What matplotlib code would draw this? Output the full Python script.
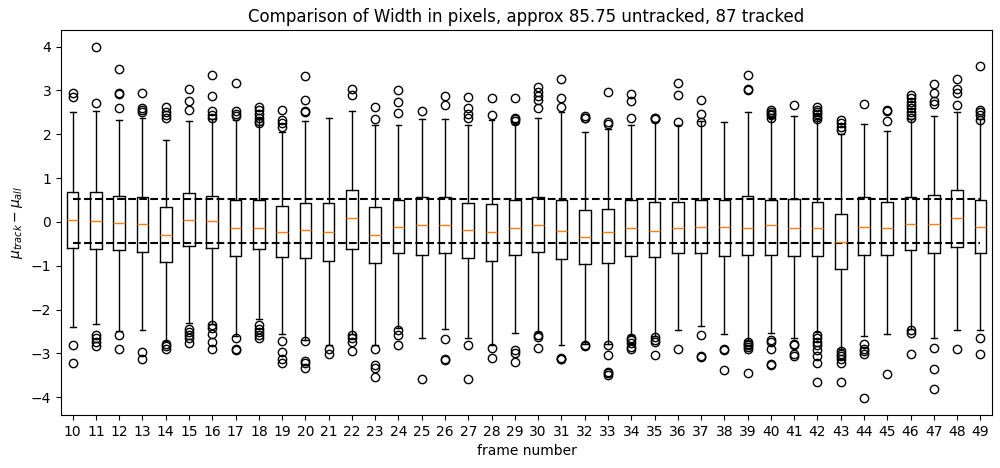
import matplotlib.pyplot as plt

frames = list(range(10, 50))

# box statistics, one entry per frame
q1 = [-0.59, -0.62, -0.65, -0.68, -0.91, -0.55, -0.59, -0.77, -0.63, -0.81,
      -0.82, -0.90, -0.61, -0.93, -0.70, -0.75, -0.70, -0.82, -0.90, -0.75,
      -0.68, -0.84, -0.96, -0.94, -0.78, -0.80, -0.72, -0.70, -0.78, -0.75,
      -0.75, -0.78, -0.78, -1.07, -0.75, -0.75, -0.65, -0.72, -0.57, -0.72]
med = [0.05, 0.03, -0.02, -0.04, -0.29, 0.05, 0.01, -0.14, -0.14, -0.24,
       -0.18, -0.24, 0.08, -0.29, -0.11, -0.08, -0.06, -0.18, -0.24, -0.13,
       -0.08, -0.20, -0.34, -0.24, -0.13, -0.20, -0.13, -0.11, -0.11, -0.13,
       -0.08, -0.13, -0.13, -0.45, -0.11, -0.13, -0.04, -0.04, 0.08, -0.11]
q3 = [0.69, 0.69, 0.60, 0.56, 0.35, 0.67, 0.58, 0.49, 0.50, 0.37,
      0.44, 0.44, 0.73, 0.35, 0.49, 0.56, 0.56, 0.44, 0.41, 0.49,
      0.56, 0.49, 0.26, 0.30, 0.49, 0.46, 0.46, 0.49, 0.49, 0.58,
      0.51, 0.53, 0.46, 0.19, 0.56, 0.46, 0.56, 0.62, 0.72, 0.49]
whislo = [-2.40, -2.34, -2.50, -2.47, -2.72, -2.30, -2.32, -2.61, -2.21, -2.55,
          -2.69, -2.82, -2.55, -2.82, -2.42, -2.66, -2.44, -2.64, -2.82, -2.53,
          -2.51, -2.80, -2.78, -2.78, -2.59, -2.61, -2.47, -2.38, -2.56, -2.70,
          -2.53, -2.64, -2.51, -2.89, -2.61, -2.56, -2.44, -2.66, -2.46, -2.46]
whishi = [2.50, 2.54, 2.32, 2.38, 1.86, 2.30, 2.34, 2.32, 2.34, 2.05,
          2.31, 2.36, 2.54, 2.22, 2.22, 2.34, 2.34, 2.22, 2.32, 2.24,
          2.36, 2.50, 2.04, 2.11, 2.20, 2.28, 2.22, 2.30, 2.27, 2.51,
          2.40, 2.41, 2.34, 2.00, 2.24, 2.07, 2.34, 2.41, 2.50, 2.34]
fliers = [
    [2.93, 2.85, -2.82, -3.23],
    [3.98, 2.72, -2.59, -2.66, -2.74, -2.84],
    [3.50, 2.93, 2.91, 2.59, -2.59, -2.89],
    [2.93, 2.59, 2.55, 2.51, -2.97, -3.14],
    [2.63, 2.51, 2.44, 2.37, -2.78, -2.84, -2.91],
    [3.04, 2.75, 2.56, -2.44, -2.51, -2.59, -2.66, -2.76],
    [3.35, 2.87, 2.53, 2.44, 2.36, -2.36, -2.42, -2.56, -2.74, -2.91],
    [3.16, 2.53, 2.47, 2.41, -2.66, -2.91, -2.93],
    [2.63, 2.55, 2.47, 2.38, 2.31, 2.25, -2.36, -2.44, -2.51, -2.59, -2.66],
    [2.56, 2.32, 2.25, 2.17, -2.72, -2.97, -3.12, -3.22],
    [3.33, 2.79, 2.53, 2.50, -2.72, -3.18, -3.23, -3.33],
    [-2.89, -3.02],
    [3.04, 2.89, -2.59, -2.66, -2.74, -2.95],
    [2.63, 2.34, -2.91, -3.26, -3.33, -3.55],
    [3.02, 2.74, 2.48, -2.47, -2.59, -2.82],
    [2.54, -3.58],
    [2.88, 2.66, -2.67, -3.14, -3.16],
    [2.84, 2.61, 2.47, 2.38, -2.82, -3.58],
    [2.82, 2.43, -2.88, -3.10],
    [2.82, 2.38, 2.34, 2.31, -2.93, -2.99, -3.20],
    [3.07, 2.97, 2.87, 2.78, 2.61, -2.59, -2.63, -2.87],
    [3.27, 2.82, 2.63, -3.10, -3.12, -3.14],
    [2.41, 2.38, 2.36, -2.80, -2.84],
    [2.96, 2.29, 2.24, -2.82, -3.04, -3.42, -3.46, -3.50],
    [2.91, 2.76, 2.38, -2.64, -2.70, -2.76, -2.85, -2.89],
    [2.38, 2.36, 2.34, -2.63, -2.69, -2.74, -3.04],
    [3.16, 2.89, 2.28, -2.91],
    [2.78, 2.47, 2.28, -2.59, -3.07, -3.08],
    [-2.91, -2.93, -3.39],
    [3.35, 3.04, 3.01, -2.74, -2.78, -2.82, -2.85, -2.89, -3.45],
    [2.55, 2.51, 2.47, 2.44, 2.38, -2.70, -2.74, -2.91, -3.25, -3.27],
    [2.66, -2.78, -2.82, -3.02, -3.07],
    [2.63, 2.56, 2.51, 2.46, 2.40, 2.34, -2.59, -2.66, -2.74, -2.82, -2.93,
     -3.07, -3.21, -3.65],
    [2.32, 2.25, 2.17, 2.09, -2.95, -3.01, -3.07, -3.14, -3.21, -3.65],
    [2.69, -2.79, -2.89, -2.95, -3.01, -4.01],
    [2.56, 2.53, 2.30, -3.48],
    [2.89, 2.82, 2.74, 2.66, 2.59, 2.51, 2.44, 2.36, -2.47, -2.53, -3.01],
    [3.14, 2.95, 2.75, 2.70, -2.87, -3.35, -3.81],
    [3.27, 3.04, 2.95, 2.66, -2.89],
    [3.55, 2.56, 2.51, 2.44, 2.32, -2.66, -3.01],
]
band = [0.52, -0.48]

stats = []
for i in range(len(frames)):
    stats.append(dict(med=med[i], q1=q1[i], q3=q3[i], whislo=whislo[i],
                      whishi=whishi[i], fliers=fliers[i]))

fig = plt.figure(figsize=(10, 4.68), dpi=100)
ax = fig.add_axes([0.061, 0.113, 0.931, 0.823])

ax.bxp(stats, positions=frames, widths=0.5)
ax.hlines(band, frames[0], frames[-1], colors='k', linestyles='--', linewidth=1.5)

ax.set_xlim(frames[0] - 0.5, frames[-1] + 0.5)
ax.set_ylim(-4.41, 4.38)
ax.set_xticks(frames)
ax.set_xticklabels([str(f) for f in frames])
ax.set_xlabel('frame number')
ax.set_ylabel(r'$\mu_{track} - \mu_{all}$')
ax.set_title('Comparison of Width in pixels, approx 85.75 untracked, 87 tracked')

fig.savefig('out.png', dpi=100)
